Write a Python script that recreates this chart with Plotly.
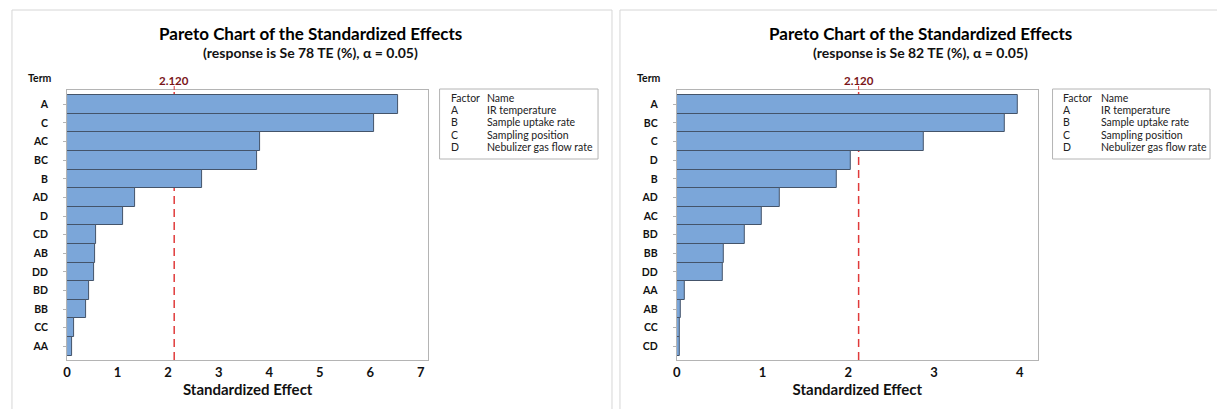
import plotly.graph_objects as go

# Standardized effects for Se 78 TE (%)
terms_78 = ["A", "C", "AC", "BC", "B", "AD", "D", "CD", "AB", "DD", "BD", "BB", "CC", "AA"]
effects_78 = [6.56, 6.07, 3.83, 3.77, 2.68, 1.35, 1.10, 0.57, 0.55, 0.53, 0.44, 0.37, 0.13, 0.10]

# Standardized effects for Se 82 TE (%)
terms_82 = ["A", "BC", "C", "D", "B", "AD", "AC", "BD", "BB", "DD", "AA", "AB", "CC", "CD"]
effects_82 = [3.98, 3.82, 2.88, 2.03, 1.87, 1.20, 0.99, 0.79, 0.55, 0.54, 0.09, 0.05, 0.04, 0.03]

critical_value = 2.120
alpha = 0.05

factor_codes = ["A", "B", "C", "D"]
factor_names = ["IR temperature", "Sample uptake rate", "Sampling position", "Nebulizer gas flow rate"]

W, H = 1217, 409
FONT = "Lato, sans-serif"
BAR_FILL = "#7ba6d9"
BAR_EDGE = "#44546a"
FRAME = "#b4b4b4"
RED = "#e03a3a"
DARK_RED = "#7a1518"


def px_x(v):
    return v / W


def px_y(v):
    return 1 - v / H


def label(x, y, text, size, color="#111111", xanchor="center"):
    return dict(x=px_x(x), y=px_y(y), xref="paper", yref="paper", showarrow=False,
                xanchor=xanchor, yanchor="middle", text=text,
                font=dict(family=FONT, size=size, color=color))


panels = [
    dict(terms=terms_78, effects=effects_78, resp="Se 78 TE (%)", xmax=7.15, ticks=list(range(8)),
         box=(63.3, 425.7), panel=(8, 610), legend=(437, 596), fcol=446, ncol=483,
         term_x=36, title_x=308),
    dict(terms=terms_82, effects=effects_82, resp="Se 82 TE (%)", xmax=4.21, ticks=list(range(5)),
         box=(675.0, 1037.3), panel=(618, 1222), legend=(1052, 1210), fcol=1060, ncol=1099,
         term_x=647, title_x=920),
]

fig = go.Figure()
shapes = []
annotations = []
layout_axes = {}
plot_top, plot_bottom = 90, 360

for i, p in enumerate(panels, start=1):
    xa = "x" if i == 1 else f"x{i}"
    ya = "y" if i == 1 else f"y{i}"
    fig.add_trace(go.Bar(
        x=p["effects"], y=p["terms"], orientation="h",
        xaxis=xa, yaxis=ya,
        marker=dict(color=BAR_FILL, line=dict(color=BAR_EDGE, width=1)),
        showlegend=False, hoverinfo="x+y",
    ))
    x0, x1 = p["box"]
    n = len(p["terms"])
    layout_axes["xaxis" if i == 1 else f"xaxis{i}"] = dict(
        domain=[px_x(x0), px_x(x1)], anchor=ya, range=[0, p["xmax"]],
        tickvals=p["ticks"], ticks="", showgrid=False, zeroline=False,
        showline=True, linecolor=FRAME, linewidth=1, mirror=True,
        tickfont=dict(family=FONT, size=13, color="#111111", weight="bold"),
        title=dict(text="<b>Standardized Effect</b>", standoff=4,
                   font=dict(family=FONT, size=15, color="#111111")),
    )
    layout_axes["yaxis" if i == 1 else f"yaxis{i}"] = dict(
        domain=[px_y(plot_bottom), px_y(plot_top)], anchor=xa,
        type="category", categoryorder="array", categoryarray=p["terms"],
        range=[n - 0.5 + 0.23, -0.77],
        ticks="outside", ticklen=3, tickcolor=FRAME, ticklabelstandoff=13,
        showgrid=False, zeroline=False,
        showline=True, linecolor=FRAME, linewidth=1, mirror=True,
        tickfont=dict(family=FONT, size=10.5, color="#111111", weight="bold"),
    )

    # Critical value reference line (drawn behind the bars)
    shapes.append(dict(type="line", xref=xa, yref=f"{ya} domain", x0=critical_value, x1=critical_value,
                       y0=0, y1=1, layer="below", line=dict(color=RED, width=1.5, dash="8px,5px")))
    shapes.append(dict(type="line", xref=xa, yref="paper", x0=critical_value, x1=critical_value,
                       y0=px_y(plot_top), y1=px_y(86), line=dict(color=RED, width=1)))
    annotations.append(dict(x=critical_value, xref=xa, y=px_y(80), yref="paper",
                            xanchor="center", yanchor="middle",
                            text=f"<b>{critical_value:.3f}</b>", showarrow=False,
                            font=dict(family=FONT, size=11.5, color=DARK_RED)))

    # Panel frame
    pl, pr = p["panel"]
    shapes.append(dict(type="rect", xref="paper", yref="paper", x0=px_x(pl), x1=px_x(pr),
                       y0=px_y(412), y1=px_y(10), line=dict(color="#d6d6d6", width=1), layer="below"))

    # Titles
    annotations.append(label(p["title_x"], 33.5, "<b>Pareto Chart of the Standardized Effects</b>", 17, "#000000"))
    annotations.append(label(p["title_x"], 52.5, f"<b>(response is {p['resp']}, α = {alpha:.2f})</b>", 14))
    annotations.append(label(p["term_x"], 78, "<b>Term</b>", 10.5))

    # Factor key box
    lx0, lx1 = p["legend"]
    shapes.append(dict(type="rect", xref="paper", yref="paper", x0=px_x(lx0), x1=px_x(lx1),
                       y0=px_y(159), y1=px_y(89), line=dict(color=FRAME, width=1)))
    rows = [("Factor", "Name")] + list(zip(factor_codes, factor_names))
    for r, (code, name) in enumerate(rows):
        yy = 98 + r * 12.2
        annotations.append(label(p["fcol"], yy, code, 10.5, "#222222", xanchor="left"))
        annotations.append(label(p["ncol"], yy, name, 10.5, "#222222", xanchor="left"))

fig.update_layout(
    width=W, height=H, margin=dict(l=0, r=0, t=0, b=0),
    paper_bgcolor="white", plot_bgcolor="white",
    bargap=0, shapes=shapes, annotations=annotations,
    font=dict(family=FONT),
    **layout_axes,
)

fig.write_html("out.html")
